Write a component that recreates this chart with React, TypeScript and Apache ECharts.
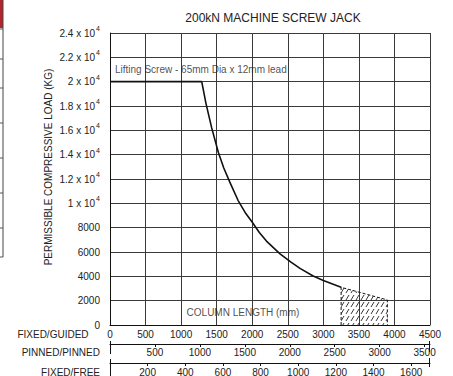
import React, { useEffect, useRef } from "react";
import * as echarts from "echarts";

const titleText = "200kN MACHINE SCREW JACK";
const yAxisTitle = "PERMISSIBLE COMPRESSIVE LOAD (KG)";
const screwLabel = "Lifting Screw - 65mm Dia x 12mm lead";
const columnLabel = "COLUMN LENGTH (mm)";
const axisNames = ["FIXED/GUIDED", "PINNED/PINNED", "FIXED/FREE"];

// [column length (mm, fixed/guided), load (kg)]
const flatLimit: [number, number][] = [
  [0, 20000],
  [1290, 20000],
];
const bucklingCurve: [number, number][] = [
  [1290, 20000],
  [1350, 18200],
  [1430, 16200],
  [1523, 14200],
  [1600, 12900],
  [1688, 11700],
  [1800, 10250],
  [1900, 9250],
  [1993, 8500],
  [2100, 7600],
  [2200, 6900],
  [2391, 5850],
  [2550, 5150],
  [2672, 4650],
  [2850, 4050],
  [3000, 3650],
  [3250, 3100],
];
const hatchZone: [number, number][] = [
  [3250, 0],
  [3250, 3100],
  [3900, 2060],
  [3900, 0],
];
const screwLabelAt: [number, number] = [70, 21000];
const columnLabelAt: [number, number] = [1870, 990];

const guidedRange = [0, 4500, 500];
const pinnedRange = [0, 3560, 500];
const freeRange = [0, 1700, 200];
const loadRange = [0, 24000, 2000];

const FONT = "'Liberation Sans', Arial, Helvetica, sans-serif";
const TXT = "#222";
const GRID = "#3a3a3a";

function hatchPattern(): string {
  const c = document.createElement("canvas");
  c.width = 5;
  c.height = 7;
  const ctx = c.getContext("2d")!;
  ctx.strokeStyle = "#222";
  ctx.lineWidth = 0.9;
  ctx.beginPath();
  ctx.moveTo(1, 6);
  ctx.lineTo(4, 1);
  ctx.stroke();
  return c.toDataURL();
}

const nameStyle = (pad: number) => ({
  fontFamily: FONT,
  fontSize: 10,
  color: TXT,
  verticalAlign: "top",
  padding: [pad, 0, 0, 0],
});

export default function App() {
  const ref = useRef<HTMLDivElement>(null);
  useEffect(() => {
    const chart = echarts.init(ref.current!, null, { renderer: "svg" });
    const extraAxis = (name: string, r: number[], offset: number, margin: number) => ({
      type: "value",
      gridIndex: 0,
      position: "bottom",
      offset,
      min: r[0],
      max: r[1],
      interval: r[2],
      name,
      nameLocation: "start",
      nameGap: 10,
      nameTextStyle: nameStyle(margin),
      axisLine: { show: true, lineStyle: { color: "#111", width: 1 } },
      axisTick: { show: true, length: 3, lineStyle: { color: "#111" } },
      axisLabel: {
        margin,
        fontFamily: FONT,
        fontSize: 10,
        color: TXT,
        showMinLabel: false,
        showMaxLabel: false,
        formatter: (v: number) => String(v),
      },
      splitLine: { show: false },
    });
    const endBar = (x: number, y1: number, y2: number) => ({
      type: "line",
      shape: { x1: x, y1, x2: x, y2 },
      style: { stroke: "#111", lineWidth: 1 },
    });
    chart.setOption({
      animation: false,
      backgroundColor: "#fff",
      textStyle: { fontFamily: FONT },
      grid: {
        left: 110,
        right: 23,
        top: 33,
        bottom: 51,
        containLabel: false,
        outerBoundsMode: "none",
      },
      xAxis: [
        {
          type: "value",
          min: guidedRange[0],
          max: guidedRange[1],
          interval: guidedRange[2],
          name: axisNames[0],
          nameLocation: "start",
          nameGap: 10,
          nameTextStyle: nameStyle(4),
          axisLine: { show: true, lineStyle: { color: "#111", width: 1 } },
          axisTick: { show: false },
          axisLabel: {
            margin: 4,
            fontFamily: FONT,
            fontSize: 10,
            color: TXT,
            formatter: (v: number) => String(v),
          },
          splitLine: { show: true, lineStyle: { color: GRID, width: 1 } },
        },
        extraAxis(axisNames[1], pinnedRange, 19, 3),
        extraAxis(axisNames[2], freeRange, 38, 4),
      ],
      yAxis: {
        type: "value",
        min: loadRange[0],
        max: loadRange[1],
        interval: loadRange[2],
        axisLine: { show: true, lineStyle: { color: "#111", width: 1 } },
        axisTick: { show: false },
        splitLine: { show: true, lineStyle: { color: GRID, width: 1 } },
        axisLabel: {
          margin: 10,
          formatter: (v: number) =>
            v >= 10000
              ? `{n|${+(v / 10000).toFixed(1)} x 10}{sup|4}`
              : `{n|${v}}`,
          rich: {
            n: { fontFamily: FONT, fontSize: 10, color: TXT, lineHeight: 16 },
            sup: {
              fontFamily: FONT,
              fontSize: 7,
              color: TXT,
              lineHeight: 8,
              verticalAlign: "top",
              padding: [0, 0, 0, 1],
            },
          },
        },
      },
      graphic: [
        {
          type: "text",
          x: 273,
          y: 18,
          style: {
            text: titleText,
            fontFamily: FONT,
            fontSize: 12,
            fill: TXT,
            align: "center",
            verticalAlign: "middle",
          },
        },
        {
          type: "text",
          x: 48,
          y: 167,
          rotation: Math.PI / 2,
          style: {
            text: yAxisTitle,
            fontFamily: FONT,
            fontSize: 10,
            fill: TXT,
            align: "center",
            verticalAlign: "middle",
          },
        },
        endBar(110.5, 341, 354),
        endBar(429.5, 341, 352),
        endBar(110.5, 359, 376),
        endBar(429.5, 358, 367),
        // cropped neighbouring table at the left edge
        { type: "rect", shape: { x: 0, y: 0, width: 3, height: 28 }, style: { fill: "#b5242c" } },
        { type: "line", shape: { x1: 3, y1: 0, x2: 3, y2: 257 }, style: { stroke: "#444", lineWidth: 1 } },
        ...[29, 59, 88, 123, 158, 193, 228, 257].map((y) => ({
          type: "line",
          shape: { x1: 0, y1: y, x2: 3, y2: y },
          style: { stroke: "#555", lineWidth: 1 },
        })),
      ],
      series: [
        {
          type: "line",
          data: hatchZone,
          showSymbol: false,
          lineStyle: { color: "#111", width: 1, type: [3, 2] },
          areaStyle: {
            color: { image: hatchPattern(), repeat: "repeat" },
            opacity: 1,
          },
          z: 3,
        },
        {
          type: "line",
          data: flatLimit,
          showSymbol: false,
          lineStyle: { color: "#111", width: 1.8 },
          z: 4,
        },
        {
          type: "line",
          data: bucklingCurve,
          showSymbol: false,
          lineStyle: { color: "#111", width: 1.6, join: "round" },
          z: 4,
        },
        {
          type: "scatter",
          symbolSize: 0,
          data: [
            { value: screwLabelAt, label: { formatter: screwLabel, align: "left" } },
            { value: columnLabelAt, label: { formatter: columnLabel, align: "center" } },
          ],
          label: {
            show: true,
            position: [0, 0],
            verticalAlign: "middle",
            fontFamily: FONT,
            fontSize: 10,
            color: TXT,
          },
          silent: true,
          z: 5,
        },
      ],
    });
    return () => chart.dispose();
  }, []);
  return (
    <div
      ref={ref}
      style={{ position: "fixed", left: 0, top: 0, width: 453, height: 376, background: "#fff" }}
    />
  );
}
